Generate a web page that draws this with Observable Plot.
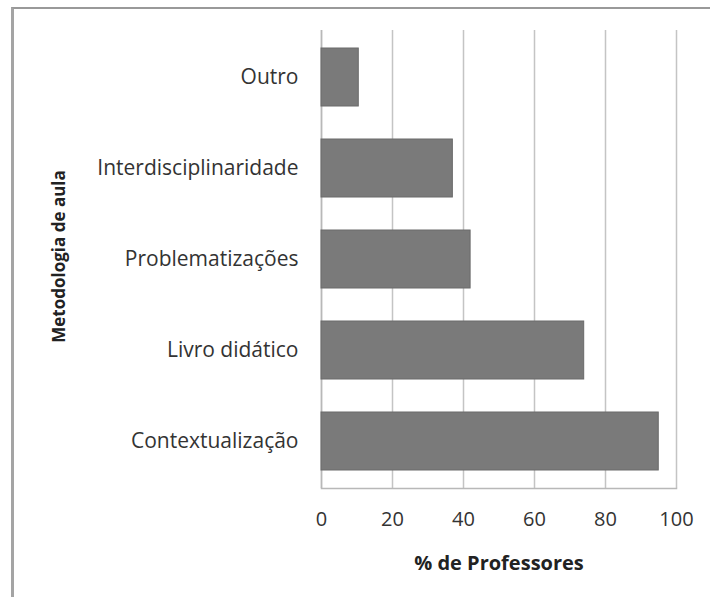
<!DOCTYPE html>
<html>
<head>
<meta charset="utf-8">
<script src="https://cdn.jsdelivr.net/npm/d3@7"></script>
<script src="https://cdn.jsdelivr.net/npm/@observablehq/plot@0.6"></script>
<style>
  html, body { margin: 0; padding: 0; background: #fff; }
  #wrap { position: relative; width: 710px; height: 597px; overflow: hidden; }
  #border { position: absolute; left: 11px; top: 7px; width: 800px; height: 700px;
            border-left: 3px solid #a4a4a4; border-top: 2px solid #999; }
  #chart { position: absolute; left: 0; top: 0; }
</style>
</head>
<body>
<div id="wrap"><div id="border"></div><div id="chart"></div></div>
<script>
const categories = ["Outro", "Interdisciplinaridade", "Problematizações", "Livro didático", "Contextualização"];
const values = [10.5, 37, 42, 74, 95];
const xTicks = [0, 20, 40, 60, 80, 100];
const xLabel = "% de Professores";
const yLabel = "Metodologia de aula";

const data = categories.map((c, i) => ({category: c, value: values[i]}));
const font = "'Open Sans', sans-serif";

const chart = Plot.plot({
  width: 710,
  height: 597,
  marginLeft: 321,
  marginRight: 34,
  marginTop: 30,
  marginBottom: 109,
  style: {fontFamily: font, fontSize: "20px", color: "#333", background: "transparent"},
  x: {domain: [0, 100], ticks: xTicks},
  y: {domain: categories, paddingInner: 0.36, paddingOuter: 0.18},
  marks: [
    Plot.gridX(xTicks, {stroke: "#c4c4c4", strokeOpacity: 1, strokeWidth: 1.5}),
    Plot.frame({anchor: "bottom", stroke: "#b8b8b8", strokeWidth: 1.5}),
    Plot.ruleX([0], {stroke: "#b8b8b8", strokeWidth: 1.5}),
    Plot.barX(data, {x: "value", y: "category", fill: "#7a7a7a", stroke: "#6a6a6a", strokeWidth: 1}),
    Plot.axisY({tickSize: 0, tickPadding: 23, label: null, fontSize: 21, fill: "#333"}),
    Plot.axisX(xTicks, {tickSize: 0, tickPadding: 23, label: null, fontSize: 20, fill: "#333"}),
    Plot.text([xLabel], {frameAnchor: "bottom", dy: 81, fontWeight: "bold", fontSize: 20, fill: "#222"}),
    Plot.text([yLabel], {frameAnchor: "left", textAnchor: "middle", dx: -262, dy: -3, rotate: -90, fontWeight: "bold", fontSize: 17, fill: "#222"})
  ]
});
document.getElementById("chart").appendChild(chart);
</script>
</body>
</html>
